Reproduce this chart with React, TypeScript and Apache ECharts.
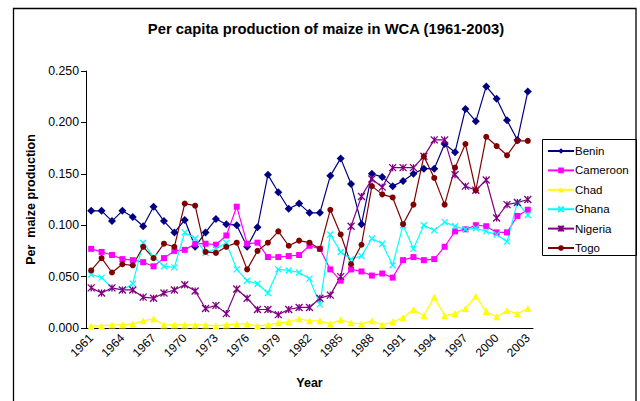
import React, { useEffect, useRef } from "react";
import * as echarts from "echarts";

const years: string[] = [];
for (let y = 1961; y <= 2003; y++) years.push(String(y));

const benin = [0.114, 0.114, 0.104, 0.114, 0.108, 0.099, 0.118, 0.104, 0.093, 0.105, 0.079, 0.093, 0.106, 0.101,
  0.100, 0.079, 0.098, 0.149, 0.132, 0.116, 0.121, 0.112, 0.112, 0.148, 0.165, 0.140, 0.101, 0.150,
  0.147, 0.138, 0.143, 0.150, 0.155, 0.155, 0.179, 0.171, 0.213, 0.201, 0.235, 0.223, 0.202, 0.183, 0.230];
const cameroon = [0.077, 0.074, 0.071, 0.067, 0.066, 0.064, 0.060, 0.068, 0.075, 0.076, 0.082, 0.082, 0.081, 0.090,
  0.118, 0.082, 0.083, 0.069, 0.069, 0.070, 0.071, 0.080, 0.077, 0.057, 0.046, 0.057, 0.055, 0.051,
  0.053, 0.049, 0.066, 0.069, 0.066, 0.067, 0.079, 0.094, 0.096, 0.100, 0.099, 0.093, 0.093, 0.109, 0.115];
const chad = [0.002, 0.002, 0.003, 0.003, 0.004, 0.007, 0.009, 0.003, 0.003, 0.003, 0.003, 0.003, 0.002, 0.003,
  0.004, 0.004, 0.002, 0.003, 0.005, 0.006, 0.009, 0.007, 0.007, 0.004, 0.008, 0.005, 0.004, 0.007,
  0.003, 0.006, 0.010, 0.018, 0.012, 0.030, 0.012, 0.014, 0.019, 0.031, 0.016, 0.011, 0.017, 0.014, 0.019];
const ghana = [0.052, 0.049, 0.039, 0.037, 0.043, 0.083, 0.069, 0.060, 0.059, 0.093, 0.087, 0.073, 0.077, 0.083,
  0.057, 0.046, 0.043, 0.034, 0.057, 0.056, 0.054, 0.048, 0.023, 0.091, 0.074, 0.067, 0.070, 0.087,
  0.082, 0.061, 0.100, 0.077, 0.100, 0.095, 0.103, 0.099, 0.096, 0.097, 0.094, 0.091, 0.084, 0.122, 0.110];
const nigeria = [0.039, 0.034, 0.039, 0.037, 0.037, 0.030, 0.029, 0.034, 0.037, 0.042, 0.036, 0.019, 0.022, 0.014,
  0.038, 0.029, 0.018, 0.018, 0.013, 0.018, 0.020, 0.020, 0.029, 0.032, 0.050, 0.099, 0.128, 0.145,
  0.137, 0.156, 0.156, 0.156, 0.167, 0.183, 0.183, 0.149, 0.138, 0.134, 0.144, 0.107, 0.120, 0.122, 0.125];
const togo = [0.056, 0.068, 0.054, 0.062, 0.061, 0.079, 0.068, 0.082, 0.079, 0.121, 0.119, 0.074, 0.073, 0.079,
  0.083, 0.057, 0.075, 0.083, 0.094, 0.080, 0.085, 0.083, 0.077, 0.115, 0.091, 0.062, 0.081, 0.138,
  0.130, 0.127, 0.101, 0.120, 0.167, 0.146, 0.120, 0.156, 0.179, 0.134, 0.186, 0.177, 0.168, 0.182, 0.182];

const FONT = "'Liberation Sans', Arial, sans-serif";

const seriesDefs = [
  { name: "Benin", data: benin, color: "#000080", symbol: "diamond", size: 8 },
  { name: "Cameroon", data: cameroon, color: "#FF00FF", symbol: "rect", size: 6 },
  { name: "Chad", data: chad, color: "#FFFF00", symbol: "triangle", size: 7 },
  { name: "Ghana", data: ghana, color: "#00FFFF", symbol: "path://M0,0L10,10M10,0L0,10", size: 6 },
  { name: "Nigeria", data: nigeria, color: "#800080", symbol: "path://M0,0L10,10M10,0L0,10M5,0L5,10", size: 7 },
  { name: "Togo", data: togo, color: "#800000", symbol: "circle", size: 6 },
];

export default function App() {
  const ref = useRef<HTMLDivElement>(null);
  useEffect(() => {
    if (!ref.current) return;
    const chart = echarts.init(ref.current, null, { renderer: "svg" });
    const isPath = (s: string) => s.startsWith("path://");
    chart.setOption({
      animation: false,
      backgroundColor: "#ffffff",
      title: {
        text: "Per capita production of maize in WCA (1961-2003)",
        left: 326,
        top: 21,
        padding: 0,
        textAlign: "center",
        textStyle: { fontFamily: FONT, fontSize: 14.8, fontWeight: "bold", color: "#000" },
      },
      grid: { left: 86, right: 107, top: 71, bottom: 73, containLabel: false },
      legend: {
        orient: "vertical",
        left: 547,
        top: 145,
        padding: 0,
        itemWidth: 26,
        itemHeight: 7,
        itemGap: 7.4,
        textStyle: { fontFamily: FONT, fontSize: 11.5, color: "#000", padding: [0, 0, 0, -4] },
        data: seriesDefs.map((s) => s.name),
      },
      xAxis: {
        type: "category",
        data: years,
        boundaryGap: true,
        name: "Year",
        nameLocation: "middle",
        nameGap: 48,
        nameTextStyle: { fontFamily: FONT, fontSize: 12.5, fontWeight: "bold", color: "#000" },
        axisLine: { lineStyle: { color: "#000", width: 1 } },
        axisTick: { interval: 0, length: 4, lineStyle: { color: "#000" } },
        axisLabel: { interval: 2, rotate: 45, fontFamily: FONT, fontSize: 12, color: "#000", margin: 8 },
        splitLine: { show: false },
      },
      yAxis: {
        type: "value",
        min: 0,
        max: 0.25,
        interval: 0.05,
        name: "Per  maize production",
        nameLocation: "middle",
        nameGap: 45,
        nameRotate: 90,
        nameTextStyle: { fontFamily: FONT, fontSize: 12.5, fontWeight: "bold", color: "#000" },
        axisLine: { show: true, lineStyle: { color: "#000", width: 1 } },
        axisTick: { show: true, length: 5, lineStyle: { color: "#000" } },
        axisLabel: {
          fontFamily: FONT,
          fontSize: 12.3,
          color: "#000",
          margin: 7,
          formatter: (v: number) => v.toFixed(3),
        },
        splitLine: { show: false },
      },
      graphic: [
        {
          type: "rect",
          shape: { x: 13.5, y: 8.5, width: 622.5, height: 400 },
          style: { fill: "none", stroke: "#000", lineWidth: 1.3 },
          silent: true,
          z: 100,
        },
        {
          type: "rect",
          shape: { x: 542.5, y: 139.5, width: 94, height: 116 },
          style: { fill: "none", stroke: "#000", lineWidth: 1 },
          silent: true,
          z: 100,
        },
      ],
      series: seriesDefs.map((s) => ({
        name: s.name,
        type: "line",
        data: s.data,
        symbol: s.symbol,
        symbolSize: s.size,
        showSymbol: true,
        showAllSymbol: true,
        lineStyle: { color: s.color, width: 1.2 },
        itemStyle: isPath(s.symbol)
          ? { color: s.color, borderColor: s.color, borderWidth: 1.3 }
          : { color: s.color, borderColor: s.color, borderWidth: 0 },
        emphasis: { disabled: true },
      })),
    });
    return () => chart.dispose();
  }, []);
  return (
    <div
      ref={ref}
      style={{ position: "fixed", left: 0, top: 0, width: 640, height: 401, background: "#fff" }}
    />
  );
}
